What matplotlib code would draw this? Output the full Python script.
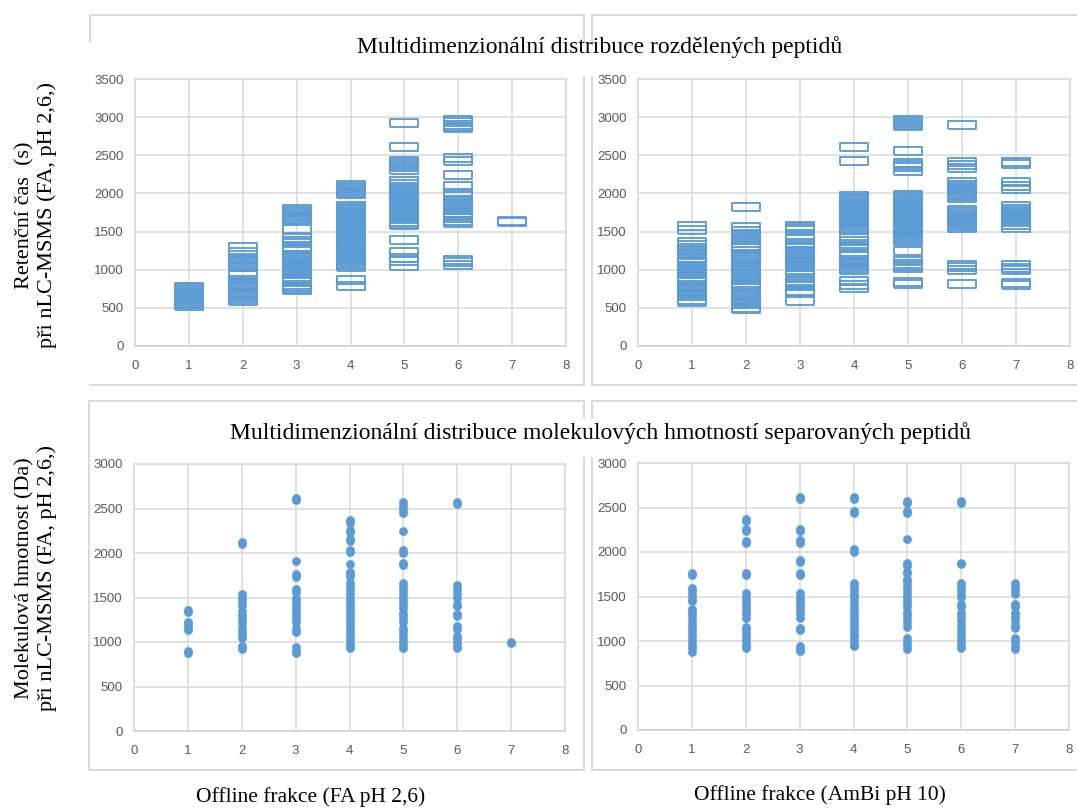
import matplotlib
matplotlib.use("Agg")
import matplotlib.pyplot as plt
from matplotlib.lines import Line2D

W, H = 1077, 809

# ---------------- data ----------------
fractions = [1, 2, 3, 4, 5, 6, 7]

# Retention time (s), FA pH 2.6 offline fractions
rt_fa = {
    1: [530, 550, 570, 590, 610, 630, 650, 670, 690, 710, 730, 755, 775],
    2: [1295, 1230, 1150, 1125, 1100, 1075, 1050, 1035, 930, 865, 840, 815, 790, 775,
        700, 670, 640, 610, 590],
    3: [1790, 1765, 1740, 1715, 1690, 1665, 1650, 1540, 1420, 1380, 1350, 1300, 1270,
        1190, 1165, 1140, 1115, 1090, 1065, 1040, 1015, 990, 965, 950,
        880, 850, 800, 770, 745, 730],
    4: [2110, 2085, 2060, 2035, 2010, 1990,
        1840, 1815, 1790, 1765, 1740, 1715, 1690, 1665, 1640, 1600, 1580, 1565, 1540,
        1515, 1490, 1465, 1440, 1400, 1375, 1350, 1320, 1290, 1265, 1240, 1210, 1190,
        1165, 1140, 1110, 1090, 1065, 1040, 860, 780],
    5: [2920, 2615, 2430, 2400, 2370, 2340, 2310,
        2160, 2120, 2090, 2060, 2030, 1990, 1965, 1940, 1915, 1890, 1865, 1840, 1810,
        1780, 1750, 1720, 1690, 1660, 1630, 1600, 1585, 1390, 1230, 1160, 1120, 1050],
    6: [2960, 2930, 2900, 2870, 2855, 2460, 2430, 2240, 2100,
        2000, 1960, 1920, 1880, 1850, 1820, 1780, 1750, 1700, 1680, 1640, 1610,
        1130, 1095, 1060],
    7: [1645, 1625],
}

# Retention time (s), AmBi pH 10 offline fractions
rt_ambi = {
    1: [1575, 1520, 1360, 1320, 1280, 1240, 1200, 1160, 1120, 1090,
        1045, 1020, 995, 970, 950, 900, 870, 850, 780, 755, 730, 705, 680, 655, 600, 575],
    2: [1820, 1555, 1510, 1470, 1430, 1390, 1350, 1310, 1280, 1195, 1170, 1145, 1120,
        1030, 1000, 970, 940, 910, 860, 830, 800, 770, 670, 645, 620, 595, 570, 545,
        500, 485],
    3: [1570, 1545, 1525, 1400, 1350, 1320, 1280, 1240, 1210, 1180, 1150, 1120, 1090,
        1060, 1030, 1000, 970, 850, 825, 800, 780, 720, 710, 595],
    4: [2610, 2430, 1960, 1935, 1910, 1885, 1860, 1835, 1810, 1785, 1760, 1735, 1710,
        1685, 1660, 1635, 1610, 1585, 1560, 1535, 1520, 1420, 1380, 1340, 1300, 1280,
        1200, 1130, 1100, 1075, 1050, 1025, 1000, 850, 800, 760],
    5: [2960, 2935, 2910, 2890, 2560, 2400, 2370, 2340, 2290,
        1985, 1960, 1935, 1910, 1885, 1860, 1835, 1810, 1785, 1760, 1735, 1710, 1685,
        1660, 1635, 1610, 1585, 1560, 1535, 1510, 1485, 1460, 1435, 1410, 1390, 1370,
        1240, 1110, 1080, 1050, 1020, 840, 815],
    6: [2900, 2410, 2370, 2330, 2145, 2110, 2085, 2060, 2035, 2010, 1985, 1960, 1935,
        1785, 1755, 1725, 1700, 1670, 1645, 1620, 1595, 1570, 1545, 1065, 1030, 1000, 815],
    7: [2410, 2380, 2145, 2095, 2060, 1830, 1790, 1765, 1740, 1710, 1680, 1650, 1620,
        1590, 1545, 1065, 1020, 1000, 825, 805],
}

# Molecular mass (Da), FA pH 2.6 offline fractions
mw_fa = {
    1: [1360, 1340, 1230, 1200, 1170, 1130, 900, 880],
    2: [2120, 2100, 1540, 1500, 1460, 1420, 1350, 1300, 1260, 1220, 1170, 1120, 1080,
        1040, 950, 920],
    3: [2620, 2600, 1910, 1760, 1730, 1600, 1560, 1500, 1460, 1420, 1380, 1340, 1300,
        1260, 1230, 1160, 1110, 940, 900, 880],
    4: [2370, 2340, 2260, 2240, 2160, 2130, 2030, 2010, 1880, 1790, 1760, 1730, 1660,
        1620, 1580, 1540, 1500, 1460, 1420, 1380, 1340, 1300, 1260, 1220, 1180, 1140,
        1100, 1060, 1020, 980, 940, 930],
    5: [2570, 2530, 2480, 2450, 2250, 2030, 2000, 1890, 1860, 1660, 1620, 1580, 1540,
        1500, 1460, 1420, 1380, 1330, 1300, 1260, 1220, 1160, 1130, 1090, 1040, 1000,
        960, 930],
    6: [2570, 2550, 1640, 1600, 1550, 1500, 1430, 1400, 1320, 1290, 1180, 1150, 1070,
        1040, 1000, 960, 930],
    7: [1000, 990],
}

# Molecular mass (Da), AmBi pH 10 offline fractions
mw_ambi = {
    1: [1760, 1740, 1590, 1560, 1520, 1470, 1450, 1360, 1330, 1290, 1250, 1200, 1160,
        1120, 1080, 1040, 1000, 960, 920, 880],
    2: [2370, 2350, 2260, 2240, 2120, 2100, 1760, 1740, 1540, 1500, 1460, 1420, 1380,
        1340, 1300, 1260, 1160, 1120, 1080, 1040, 1000, 960, 920],
    3: [2620, 2600, 2260, 2240, 2130, 2100, 1910, 1890, 1760, 1740, 1540, 1500, 1460,
        1420, 1380, 1340, 1300, 1260, 1150, 1120, 940, 910, 890],
    4: [2620, 2600, 2460, 2440, 2030, 2000, 1650, 1610, 1570, 1530, 1490, 1450, 1400,
        1360, 1320, 1280, 1240, 1200, 1160, 1120, 1080, 1040, 1000, 960, 940],
    5: [2570, 2550, 2460, 2440, 2150, 1880, 1840, 1780, 1760, 1700, 1660, 1620, 1580,
        1540, 1500, 1460, 1420, 1380, 1330, 1290, 1250, 1200, 1160, 1030, 990, 950, 910],
    6: [2570, 2550, 1880, 1860, 1650, 1610, 1570, 1530, 1500, 1420, 1380, 1320, 1280,
        1240, 1180, 1140, 1080, 1040, 1000, 950, 920],
    7: [1650, 1610, 1570, 1530, 1420, 1380, 1320, 1280, 1240, 1180, 1150, 1030, 990,
        940, 910],
}

title_top = "Multidimenzionální distribuce rozdělených peptidů"
title_bottom = "Multidimenzionální distribuce molekulových hmotností separovaných peptidů"
ylabel_top = "Retenční čas  (s)\npři nLC-MSMS (FA, pH 2,6,)"
ylabel_bottom = "Molekulová hmotnost (Da)\npři nLC-MSMS (FA, pH 2,6,)"
xlabel_left = "Offline frakce (FA pH 2,6)"
xlabel_right = "Offline frakce (AmBi pH 10)"
x_ticks = [0, 1, 2, 3, 4, 5, 6, 7, 8]
y_ticks_top = [0, 500, 1000, 1500, 2000, 2500, 3000, 3500]
y_ticks_bottom = [0, 500, 1000, 1500, 2000, 2500, 3000]

# ---------------- style ----------------
BLUE = "#5B9BD5"
GRID = "#D9D9D9"
TICKC = "#595959"
BOX = "#D9D9D9"
SERIF = ["Liberation Serif", "DejaVu Serif"]
TICKFONT = ["Liberation Sans", "DejaVu Sans"]

fig = plt.figure(figsize=(W / 100, H / 100), dpi=100)


def ax_rect(l, t, r, b):
    return [l / W, 1 - b / H, (r - l) / W, (b - t) / H]


def fline(x0, y0, x1, y1):
    fig.add_artist(Line2D([x0 / W, x1 / W], [1 - y0 / H, 1 - y1 / H],
                          transform=fig.transFigure, color=BOX, lw=1.4))


# panel boxes (partly hidden behind title text boxes)
# top-left
fline(90, 15, 584, 15)
fline(90, 15, 90, 42)
fline(584, 15, 584, 42)
fline(584, 77, 584, 385)
fline(90, 385, 584, 385)
# top-right
fline(592, 15, 1077, 15)
fline(592, 15, 592, 42)
fline(592, 77, 592, 385)
fline(592, 385, 1077, 385)
# bottom-left
fline(89, 401, 584, 401)
fline(89, 401, 89, 770)
fline(584, 401, 584, 418)
fline(584, 458, 584, 770)
fline(89, 770, 584, 770)
# bottom-right
fline(592, 401, 1077, 401)
fline(592, 401, 592, 418)
fline(592, 458, 592, 770)
fline(592, 770, 1077, 770)


def style_axes(ax, yticks, ymax):
    ax.set_xlim(0, 8)
    ax.set_ylim(0, ymax)
    ax.set_xticks(x_ticks)
    ax.set_yticks(yticks)
    ax.grid(True, color=GRID, lw=1.1)
    ax.set_axisbelow(True)
    for s in ax.spines.values():
        s.set_color(GRID)
        s.set_linewidth(1.1)
    ax.spines["bottom"].set_color("#CFCFCF")
    ax.tick_params(length=0, colors=TICKC, labelsize=9.5)
    ax.tick_params(axis="x", pad=10)
    ax.tick_params(axis="y", pad=8)
    for lab in ax.get_xticklabels() + ax.get_yticklabels():
        lab.set_family(TICKFONT)
    ax.set_facecolor("none")


rect_marker = [(-2, -0.5), (2, -0.5), (2, 0.5), (-2, 0.5), (-2, -0.5)]


def draw_rt(ax, data):
    for f in fractions:
        ys = data[f]
        ax.plot([f] * len(ys), ys, ls="none", marker=rect_marker, ms=20.5,
                mfc="none", mec=BLUE, mew=1.35, clip_on=False)


def draw_mw(ax, data):
    for f in fractions:
        ys = data[f]
        ax.plot([f] * len(ys), ys, ls="none", marker="o", ms=6.3,
                mfc=BLUE, mec=BLUE, mew=0, clip_on=False)


ax1 = fig.add_axes(ax_rect(135, 79, 566, 346))
style_axes(ax1, y_ticks_top, 3500)
draw_rt(ax1, rt_fa)

ax2 = fig.add_axes(ax_rect(638, 79, 1070, 346))
style_axes(ax2, y_ticks_top, 3500)
draw_rt(ax2, rt_ambi)

ax3 = fig.add_axes(ax_rect(134, 464, 565, 731))
style_axes(ax3, y_ticks_bottom, 3000)
draw_mw(ax3, mw_fa)

ax4 = fig.add_axes(ax_rect(638, 463, 1069, 730))
style_axes(ax4, y_ticks_bottom, 3000)
draw_mw(ax4, mw_ambi)

# titles and labels
fig.text(600 / W, 1 - 47 / H, title_top, ha="center", va="center",
         family=SERIF, fontsize=17, color="black")
fig.text(600 / W, 1 - 433 / H, title_bottom, ha="center", va="center",
         family=SERIF, fontsize=17, color="black")
fig.text(36 / W, 1 - 215 / H, ylabel_top, ha="center", va="center", rotation=90,
         family=SERIF, fontsize=16, color="black", linespacing=1.2,
         multialignment="center")
fig.text(36 / W, 1 - 578 / H, ylabel_bottom, ha="center", va="center", rotation=90,
         family=SERIF, fontsize=16, color="black", linespacing=1.2,
         multialignment="center")
fig.text(311 / W, 1 - 797 / H, xlabel_left, ha="center", va="center",
         family=SERIF, fontsize=15.5, color="black")
fig.text(820 / W, 1 - 795 / H, xlabel_right, ha="center", va="center",
         family=SERIF, fontsize=15.5, color="black")

fig.savefig("out.png", dpi=100, facecolor="white")
